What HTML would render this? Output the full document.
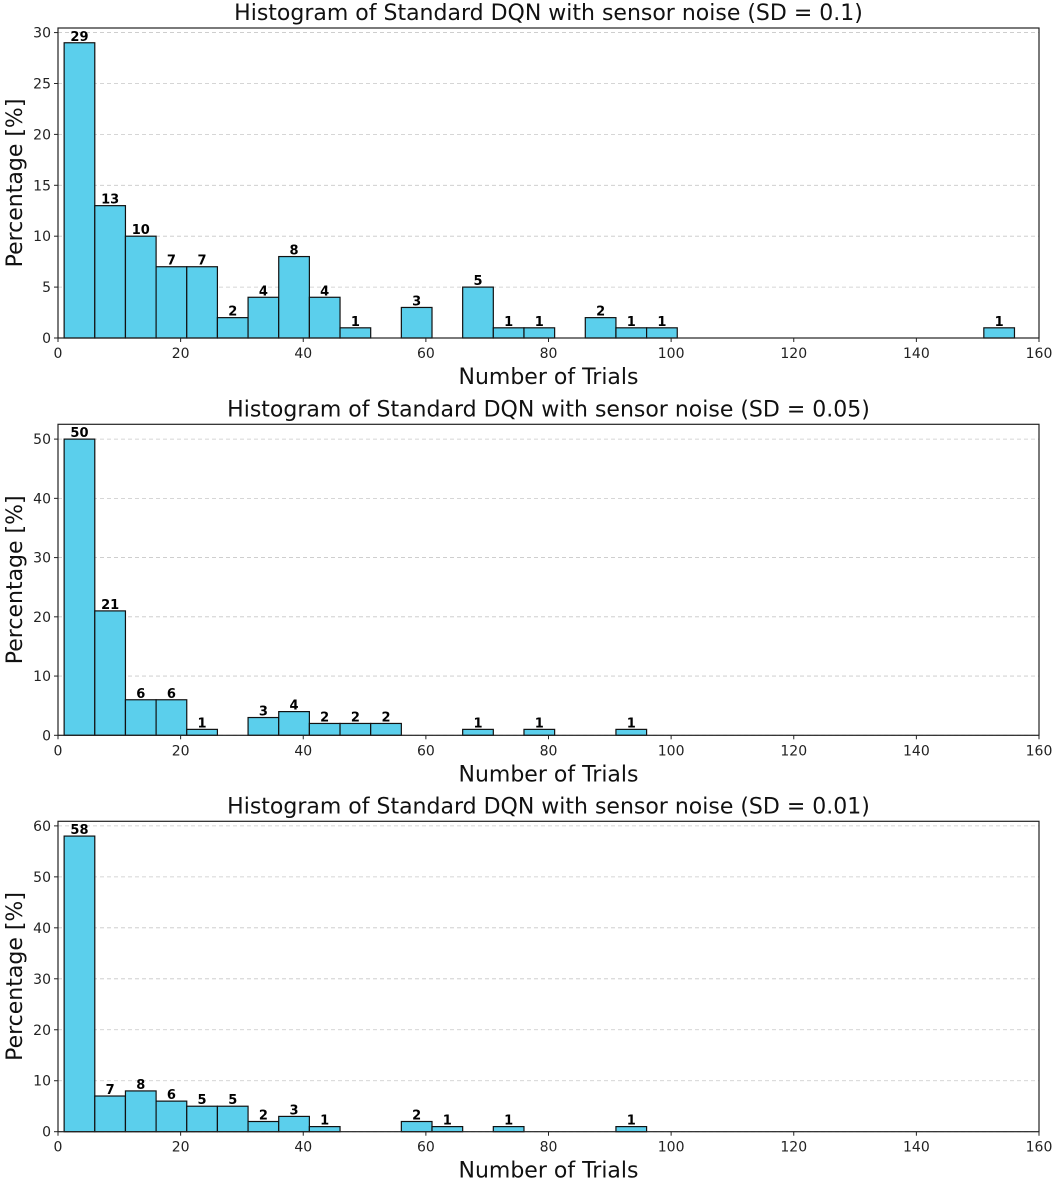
<!DOCTYPE html>
<html><head><meta charset="utf-8"><style>
body{margin:0;background:#fff}
svg{display:block;font-family:"DejaVu Sans","Liberation Sans",sans-serif}
</style></head><body>
<svg id="chart" width="1052" height="1180" viewBox="0 0 1052 1180"></svg>
<script>
const binStart = 1;
const binWidth = 5;
const xTicks = [0, 20, 40, 60, 80, 100, 120, 140, 160];
const titles = ["Histogram of Standard DQN with sensor noise (SD = 0.1)",
  "Histogram of Standard DQN with sensor noise (SD = 0.05)",
  "Histogram of Standard DQN with sensor noise (SD = 0.01)"];
const countsSD01 = [29,13,10,7,7,2,4,8,4,1,0,3,0,5,1,1,0,2,1,1,0,0,0,0,0,0,0,0,0,0,1];
const countsSD005 = [50,21,6,6,1,0,3,4,2,2,2,0,0,1,0,1,0,0,1,0,0,0,0,0,0,0,0,0,0,0,0];
const countsSD001 = [58,7,8,6,5,5,2,3,1,0,0,2,1,0,1,0,0,0,1,0,0,0,0,0,0,0,0,0,0,0,0];
const yTicks1 = [0,5,10,15,20,25,30];
const yTicks2 = [0,10,20,30,40,50];
const yTicks3 = [0,10,20,30,40,50,60];

const NS = "http://www.w3.org/2000/svg";
const svg = document.getElementById("chart");
function mk(tag, attrs, parent){const e=document.createElementNS(NS,tag);for(const k in attrs)e.setAttribute(k,attrs[k]);(parent||svg).appendChild(e);return e;}

const panels = [
  {top:28, bottom:338, counts:countsSD01, ticks:yTicks1, title:titles[0], name:"sd-0-1"},
  {top:424.3, bottom:735.3, counts:countsSD005, ticks:yTicks2, title:titles[1], name:"sd-0-05"},
  {top:821.3, bottom:1131.7, counts:countsSD001, ticks:yTicks3, title:titles[2], name:"sd-0-01"}
];
const L = 58, R = 1039;
const xs = v => L + (v - 0) / 160 * (R - L);

panels.forEach(p => {
  const g = mk("g", {});
  
  
  const ymax = Math.max(...p.counts) * 1.05;
  const ys = v => p.bottom - v / ymax * (p.bottom - p.top);
  p.ticks.forEach(t => {
    const gl = mk("line", {x1:L, x2:R, y1:ys(t), y2:ys(t), stroke:"#c8c8c8", "stroke-width":0.8, "stroke-dasharray":"4,3"}, g);
    
    
  });
  p.counts.forEach((c, i) => {
    if (c <= 0) return;
    const x0 = xs(binStart + i * binWidth), x1 = xs(binStart + (i + 1) * binWidth);
    const b = mk("rect", {x:x0, y:ys(c), width:x1 - x0, height:ys(0) - ys(c), fill:"#5bcfec", stroke:"#111", "stroke-width":1.2}, g);
    
    
    const t = mk("text", {x:(x0 + x1) / 2, y:ys(c) - 2, "text-anchor":"middle", "font-size":13, "font-weight":"bold", fill:"#000"}, g);
    t.textContent = c;
    
    
  });
  const fr = mk("rect", {x:L, y:p.top, width:R - L, height:p.bottom - p.top, fill:"none", stroke:"#222", "stroke-width":1.2}, g);
  
  
  p.ticks.forEach(t => {
    mk("line", {x1:L - 4, x2:L, y1:ys(t), y2:ys(t), stroke:"#222"}, g);
    const tx = mk("text", {x:L - 7, y:ys(t) + 5, "text-anchor":"end", "font-size":14, fill:"#222"}, g);
    tx.textContent = t;
    
    
  });
  xTicks.forEach(t => {
    mk("line", {x1:xs(t), x2:xs(t), y1:p.bottom, y2:p.bottom + 4, stroke:"#222"}, g);
    const tx = mk("text", {x:xs(t), y:p.bottom + 20, "text-anchor":"middle", "font-size":14, fill:"#222"}, g);
    tx.textContent = t;
    
    
  });
  const ti = mk("text", {x:(L + R) / 2, y:p.top - 8, "text-anchor":"middle", "font-size":22, fill:"#111"}, g);
  ti.textContent = p.title;
  
  
  const xl = mk("text", {x:(L + R) / 2, y:p.bottom + 46, "text-anchor":"middle", "font-size":22, fill:"#111"}, g);
  xl.textContent = "Number of Trials";
  
  
  const cy = (p.top + p.bottom) / 2;
  const yl = mk("text", {x:0, y:0, transform:`translate(22,${cy}) rotate(-90)`, "text-anchor":"middle", "font-size":22, fill:"#111"}, g);
  yl.textContent = "Percentage [%]";
  
  
});
</script>
</body></html>
